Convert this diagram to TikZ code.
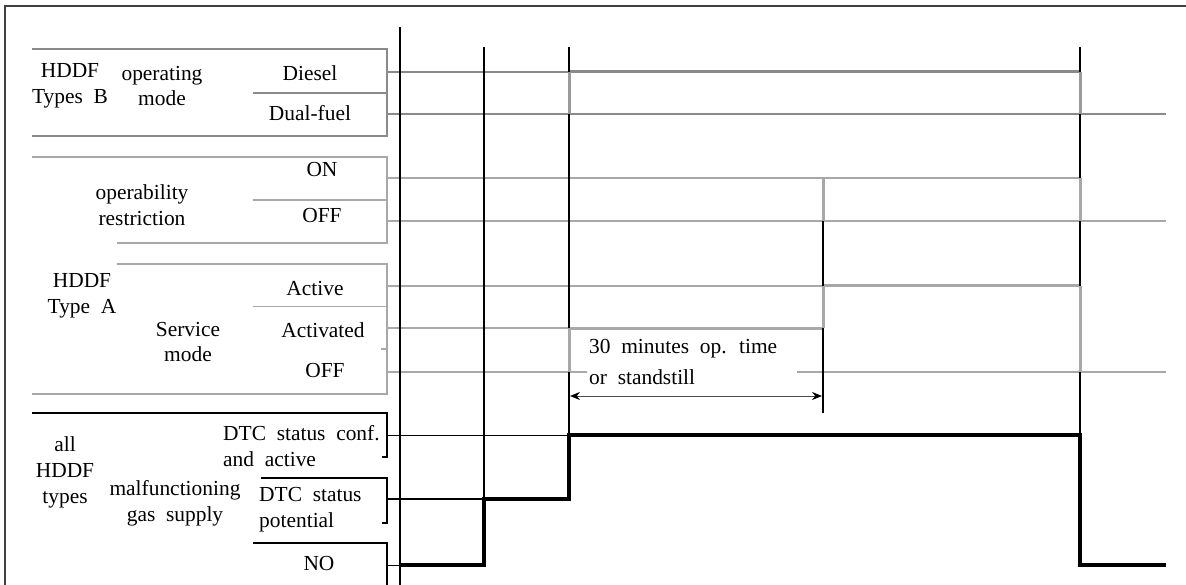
\documentclass[tikz,border=0pt]{standalone}
\usepackage{fontspec}
\setmainfont{Liberation Serif}[WordSpace=2.0]
\usetikzlibrary{arrows.meta}
\definecolor{gd}{HTML}{8A8A8A}
\definecolor{gs}{HTML}{9A9A9A}
\definecolor{gl}{HTML}{A8A8A8}
\definecolor{frm}{HTML}{404040}
\begin{document}
\begin{tikzpicture}[x=1bp,y=-1bp,
  lbl/.style={font=\fontsize{21.5}{26}\selectfont, inner sep=0pt, align=center},
  lbll/.style={lbl, align=left},
  grpdark/.style={draw=gd, line width=2bp},
  grplight/.style={draw=gl, line width=2bp},
  grpblack/.style={draw=black, line width=1.6bp},
  timeline/.style={draw=black, line width=2bp},
  stepgray/.style={draw=gs, line width=3bp},
  stepgl/.style={draw=gl, line width=3bp},
  dtc/.style={draw=black, line width=4.5bp},
  dimarrow/.style={<->, >={Stealth[length=10bp,width=8bp,black]}, line width=1bp, draw=black!70}
]
\useasboundingbox (0,0) rectangle (1186,585);
% frame
\draw[frm, line width=1.5bp] (5,585) -- (5,6) -- (1186,6);

% ---- label brackets ----
\draw[grpdark] (32,49) -- (387,49) -- (387,136) -- (32,136);
\draw[gd, line width=1.5bp] (253,93) -- (387,93);

\draw[grplight] (32,157) -- (387,157) -- (387,243) -- (117,243);
\draw[gl, line width=1.5bp] (253,200) -- (387,200);

\draw[grplight] (117,264) -- (387,264) -- (387,394) -- (32,394);
\draw[gl, line width=1bp] (253,307) -- (387,307);
\draw[gl, line width=1.5bp] (381,349) -- (387,349);

\draw[black, line width=2.2bp] (32,413) -- (238,413);
\draw[grpblack] (238,413) -- (387,413) -- (387,457) -- (382,457);
\draw[grpblack] (261,478) -- (387,478) -- (387,523) -- (382,523);
\draw[grpblack] (253,543) -- (387,543) -- (387,585);

% ---- signal base lines ----
\draw[gd, line width=1.5bp] (387,72) -- (569,72);
\draw[gd, line width=3bp] (569,72) -- (1080,72);
\draw[gd, line width=2bp] (387,114) -- (1166,114);

\draw[gl, line width=2bp] (387,178) -- (1080,178);
\draw[gl, line width=2.5bp] (387,221) -- (1166,221);

\draw[gl, line width=1.8bp] (387,286) -- (823,286);
\draw[gl, line width=3bp] (823,286) -- (1080,286);
\draw[gl, line width=1.8bp] (387,328) -- (569,328);
\draw[gl, line width=3bp] (569,328) -- (823,328);
\draw[gl, line width=1.2bp] (387,372) -- (587,372);
\draw[gl, line width=1.2bp] (797,372) -- (1166,372);

\draw[black, line width=1bp] (387,435) -- (569,435);
\draw[black, line width=1.8bp] (387,499) -- (484,499);
\draw[black, line width=1bp] (387,565) -- (400,565);

% ---- time lines ----
\draw[black, line width=2.5bp] (400,27) -- (400,585);
\draw[timeline] (484,47) -- (484,499);
\draw[timeline] (569,47) -- (569,435);
\draw[timeline] (823,221) -- (823,413);
\draw[timeline] (1080,47) -- (1080,435);

% ---- steps ----
\draw[stepgray] (569,72) -- (569,114);
\draw[stepgray] (1080,72) -- (1080,114);
\draw[stepgl] (823,178) -- (823,221);
\draw[stepgl] (1080,178) -- (1080,221);
\draw[stepgl] (569,328) -- (569,372);
\draw[stepgl] (823,286) -- (823,328);
\draw[stepgl] (1080,286) -- (1080,372);

\draw[dtc] (400,565) -- (484,565) -- (484,499) -- (569,499) -- (569,435)
  -- (1080,435) -- (1080,565) -- (1166,565);

% ---- duration arrow ----
\coordinate (a1) at (570,396);
\coordinate (a2) at (822,396);
\draw[dimarrow] (a1) -- (a2);

% ---- texts ----
\node[lbl] (t1) at (70,86) {HDDF\\Types B};
\node[lbl] (t2) at (162,86) {operating\\mode};
\node[lbl] (t3) at (310,73) {Diesel};
\node[lbl] (t4) at (310,113) {Dual-fuel};
\node[lbl] (t5) at (142,205) {operability\\restriction};
\node[lbl] (t6) at (322,170) {ON};
\node[lbl] (t7) at (322,216) {OFF};
\node[lbl] (t8) at (82,296) {HDDF\\Type A};
\node[lbl] (t9) at (188,342) {Service\\mode};
\node[lbl] (t10) at (315,289) {Active};
\node[lbl] (t11) at (323,330) {Activated};
\node[lbl] (t12) at (325,371) {OFF};
\node[lbl] (t13) at (65,472) {all\\HDDF\\types};
\node[lbl] (t14) at (175,503) {malfunctioning\\gas supply};
\node[lbll, anchor=west] (t15) at (223,446) {DTC status conf.\\and active};
\node[lbll, anchor=west] (t16) at (259,510) {DTC status\\potential};
\node[lbl] (t17) at (319,564) {NO};
\node[lbll, anchor=west, font=\fontsize{21.5}{31}\selectfont] (t18) at (589,362) {30 minutes op. time\\or standstill};
\end{tikzpicture}
\end{document}
